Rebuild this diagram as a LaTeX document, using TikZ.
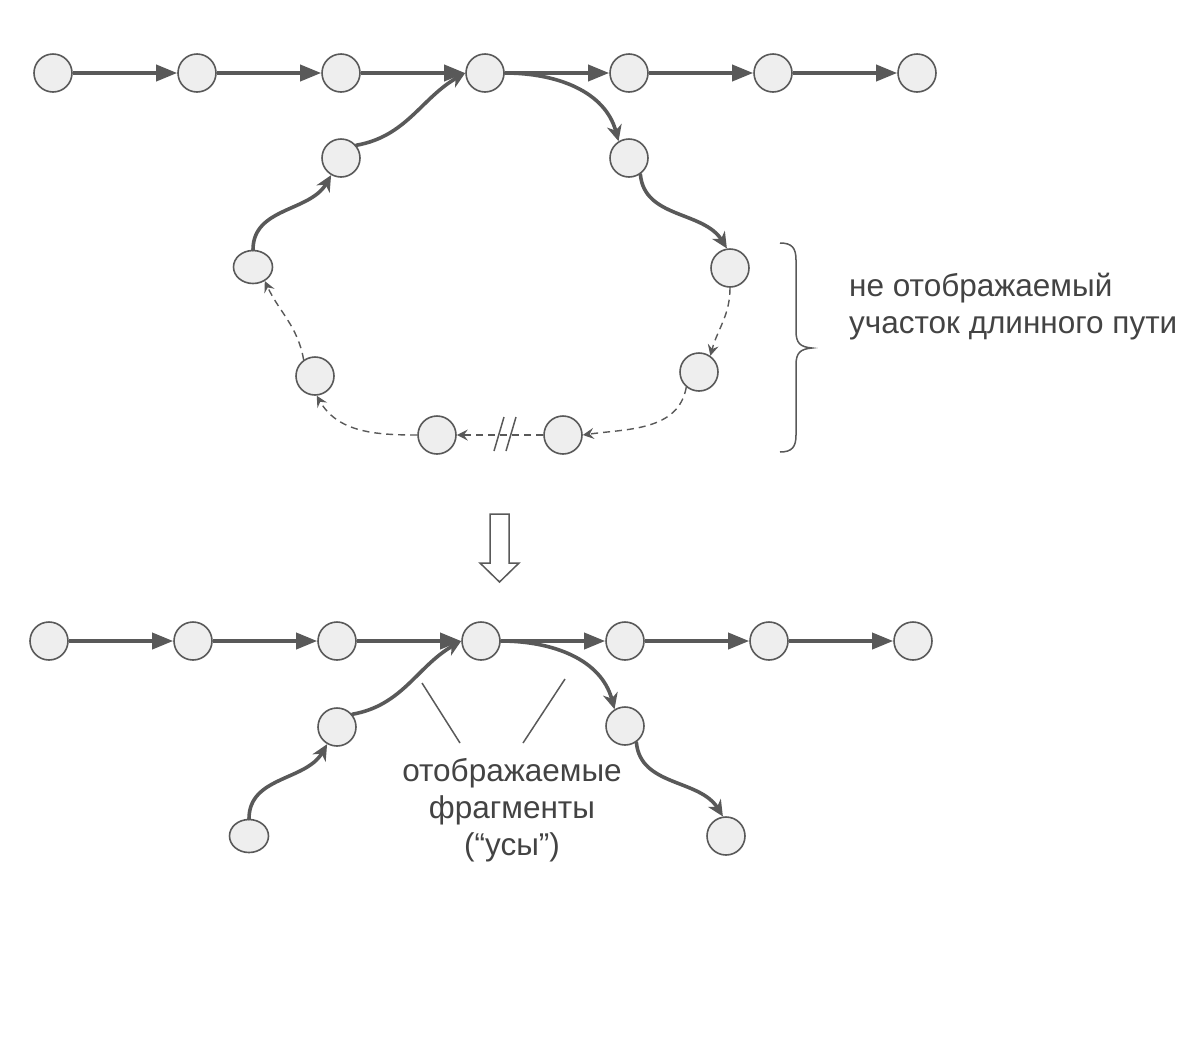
\documentclass[tikz,border=0pt]{standalone}
\usepackage{fontspec}
\setmainfont{Liberation Sans}
\usetikzlibrary{arrows.meta,shapes.geometric}
\definecolor{ln}{HTML}{595959}
\definecolor{nf}{HTML}{EEEEEE}
\definecolor{tx}{HTML}{434343}
\begin{document}
\begin{tikzpicture}[x=1pt,y=1pt,
  vert/.style={circle,draw=ln,line width=1.6pt,fill=nf,minimum size=38pt,inner sep=0pt},
  vertell/.style={ellipse,draw=ln,line width=1.6pt,fill=nf,minimum width=39pt,minimum height=33pt,inner sep=0pt},
  straightarr/.style={draw=ln,line width=3.6pt,-{Triangle[length=21pt,width=16pt]}},
  curvearr/.style={draw=ln,line width=3.6pt,line cap=round,-{Stealth[length=16pt,width=15pt,inset=5pt]}},
  dasharr/.style={draw=ln,line width=1.4pt,dash pattern=on 7pt off 5pt,-{Stealth[length=11pt,width=11pt,inset=4pt]}},
  thinline/.style={draw=ln,line width=1.5pt},
  lbl/.style={text=tx,font=\fontsize{31.5}{37}\selectfont,inner sep=0pt}]
\useasboundingbox (0,0) rectangle (1204,-1042);
% top row
\foreach \i/\x in {1/53,2/197,3/341,4/485,5/629,6/773,7/917}
  \node[vert] (t\i) at (\x,-73) {};
\foreach \i/\j in {1/2,2/3,3/4,4/5,5/6,6/7}
  \draw[straightarr] (t\i) -- (t\j);
% loop
\node[vert] (a1) at (341,-158) {};
\node[vertell] (a2) at (253,-267) {};
\node[vert] (a3) at (315,-376) {};
\node[vert] (a4) at (437,-435) {};
\node[vert] (a5) at (563,-435) {};
\node[vert] (a6) at (699,-372) {};
\node[vert] (a7) at (730,-268) {};
\node[vert] (a8) at (629,-158) {};
\draw[curvearr] (a1.40) to[out=10,in=210] (t4.west);
\draw[curvearr] (t4.east) to[out=0,in=105] (a8.122);
\draw[curvearr] (a8.-55) to[out=-85,in=122] (a7.99);
\draw[dasharr] (a7.south) to[out=-90,in=75] (a6.55);
\draw[dasharr] (a6.-130) to[out=-100,in=8] (a5.east);
\draw[dasharr] (a5.west) -- (a4.east);
\draw[dasharr] (a4.west) to[out=180,in=-60] (a3.-85);
\draw[dasharr] (a3.125) to[out=100,in=-65] (a2.-50);
\draw[curvearr] (a2.north) to[out=90,in=-120] (a1.-120);
% break mark
\coordinate (m1a) at (494,-451); \coordinate (m1b) at (504,-417);
\coordinate (m2a) at (506,-451); \coordinate (m2b) at (516,-417);
\draw[thinline] (m1a) -- (m1b);
\draw[thinline] (m2a) -- (m2b);
% brace
\draw[thinline] (780,-243) .. controls (792,-243) and (796,-248) .. (796,-260)
  -- (796,-331) .. controls (796,-343) and (800,-347) .. (812,-348)
  .. controls (800,-349) and (796,-353) .. (796,-365)
  -- (796,-435) .. controls (796,-447) and (792,-452) .. (780,-452);
\node[lbl,anchor=base west,align=left] (note1) at (849,-333) {не отображаемый\\участок длинного пути};
% hollow arrow
\draw[draw=ln,line width=1.5pt,fill=white,line join=miter] (490,-514) -- (509,-514) -- (509,-563) -- (519,-563) -- (499.5,-582) -- (480,-563) -- (490,-563) -- cycle;
% bottom row
\foreach \i/\x in {1/49,2/193,3/337,4/481,5/625,6/769,7/913}
  \node[vert] (b\i) at (\x,-641) {};
\foreach \i/\j in {1/2,2/3,3/4,4/5,5/6,6/7}
  \draw[straightarr] (b\i) -- (b\j);
\node[vert] (c1) at (337,-727) {};
\node[vertell] (c2) at (249,-836) {};
\node[vert] (c3) at (625,-726) {};
\node[vert] (c4) at (726,-836) {};
\draw[curvearr] (c1.40) to[out=10,in=210] (b4.west);
\draw[curvearr] (b4.east) to[out=0,in=105] (c3.122);
\draw[curvearr] (c3.-55) to[out=-85,in=122] (c4.99);
\draw[curvearr] (c2.north) to[out=90,in=-120] (c1.-120);
% label
\node[lbl,anchor=base,align=center] (note2) at (512,-855) {отображаемые\\фрагменты\\(“усы”)};
\coordinate (p1a) at (422,-683); \coordinate (p1b) at (460,-743);
\coordinate (p2a) at (565,-679); \coordinate (p2b) at (523,-743);
\draw[thinline] (p1a) -- (p1b);
\draw[thinline] (p2a) -- (p2b);
\end{tikzpicture}
\end{document}
